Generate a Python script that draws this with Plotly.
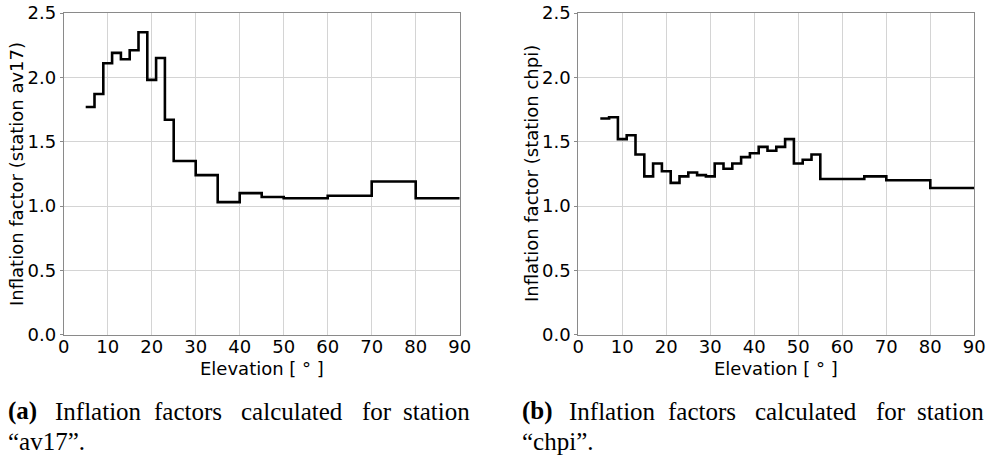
import plotly.graph_objects as go

# ---- data ----
av17_edges = [5, 7, 9, 11, 13, 15, 17, 19, 21, 23, 25, 30, 35, 40, 45, 50, 60, 70, 80, 90]
av17_values = [1.77, 1.87, 2.11, 2.19, 2.14, 2.21, 2.35, 1.98, 2.15, 1.67, 1.35, 1.24,
               1.03, 1.10, 1.07, 1.06, 1.08, 1.19, 1.06]

chpi_edges = [5, 7, 9, 11, 13, 15, 17, 19, 21, 23, 25, 27, 29, 31, 33, 35, 37, 39, 41, 43,
              45, 47, 49, 51, 53, 55, 65, 70, 80, 90]
chpi_values = [1.68, 1.69, 1.52, 1.55, 1.40, 1.23, 1.33, 1.27, 1.18, 1.23, 1.26, 1.24, 1.23,
               1.33, 1.29, 1.33, 1.38, 1.41, 1.46, 1.43, 1.46, 1.52, 1.33, 1.36, 1.40, 1.21,
               1.23, 1.20, 1.14]

x_ticks = [0, 10, 20, 30, 40, 50, 60, 70, 80, 90]
y_ticks = [0.0, 0.5, 1.0, 1.5, 2.0, 2.5]
y_ticklabels = ["0.0", "0.5", "1.0", "1.5", "2.0", "2.5"]

xlabel = "Elevation [ ° ]"
ylabels = ["Inflation factor (station av17)", "Inflation factor (station chpi)"]
caption_words = [
    ["<b>(a)</b>", "Inflation", "factors", "calculated", "for", "station"],
    ["<b>(b)</b>", "Inflation", "factors", "calculated", "for", "station"],
]
caption_line2 = ["“av17”.", "“chpi”."]

W, H = 992, 455
TICK_FONT = dict(family="DejaVu Sans", size=18, color="black")
CAP_FONT = dict(family="Liberation Serif", size=25, color="black")

fig = go.Figure()

series = [(av17_edges, av17_values), (chpi_edges, chpi_values)]
x_domains = [[63.7 / W, 459.7 / W], [578.3 / W, 974.3 / W]]
y_domain = [1 - 334.7 / H, 1 - 13 / H]

for i, (edges, vals) in enumerate(series):
    xa = "x" if i == 0 else "x2"
    ya = "y" if i == 0 else "y2"
    fig.add_trace(go.Scatter(
        x=edges, y=vals + [vals[-1]], mode="lines", line_shape="hv",
        line=dict(color="black", width=2.6), xaxis=xa, yaxis=ya, showlegend=False,
    ))
    axis_common = dict(showline=True, mirror=True, linecolor="#8a8a8a", linewidth=1,
                       showgrid=True, gridcolor="#d4d4d4", gridwidth=1, zeroline=False,
                       tickcolor="#8a8a8a", tickfont=TICK_FONT, automargin=False)
    xkey = "xaxis" if i == 0 else "xaxis2"
    ykey = "yaxis" if i == 0 else "yaxis2"
    fig.update_layout(**{
        xkey: dict(domain=x_domains[i], range=[0, 90], tickvals=x_ticks,
                   anchor=ya, ticks="", ticklabelstandoff=-4, **axis_common),
        ykey: dict(domain=y_domain, range=[0, 2.5], tickvals=y_ticks,
                   ticktext=y_ticklabels, anchor=xa, ticks="outside", ticklen=3,
                   **axis_common),
    })

annotations = []
centers = [(63.7 + 459.7) / 2, (578.3 + 974.3) / 2]
ytitle_x = [16, 531]
cap_x = [6, 520]
word_offsets = [0, 46.5, 145.5, 233, 353.5, 395]
for i in range(2):
    annotations.append(dict(x=centers[i] / W, y=1 - 368 / H, xref="paper", yref="paper",
                            text=xlabel, showarrow=False, xanchor="center", yanchor="middle",
                            font=dict(family="DejaVu Sans", size=18, color="black")))
    annotations.append(dict(x=ytitle_x[i] / W, y=1 - 174 / H, xref="paper", yref="paper",
                            text=ylabels[i], showarrow=False, textangle=-90,
                            xanchor="center", yanchor="middle",
                            font=dict(family="DejaVu Sans", size=18, color="black")))
    for w, off in zip(caption_words[i], word_offsets):
        annotations.append(dict(x=(cap_x[i] + off) / W, y=1 - 411 / H, xref="paper",
                                yref="paper", text=w, showarrow=False, xanchor="left",
                                yanchor="middle", font=CAP_FONT))
    annotations.append(dict(x=cap_x[i] / W, y=1 - 441 / H, xref="paper", yref="paper",
                            text=caption_line2[i], showarrow=False, xanchor="left",
                            yanchor="middle", font=CAP_FONT))

fig.update_layout(width=W, height=H, margin=dict(l=0, r=0, t=0, b=0),
                  paper_bgcolor="white", plot_bgcolor="white",
                  annotations=annotations)

fig.write_html("out.html")
